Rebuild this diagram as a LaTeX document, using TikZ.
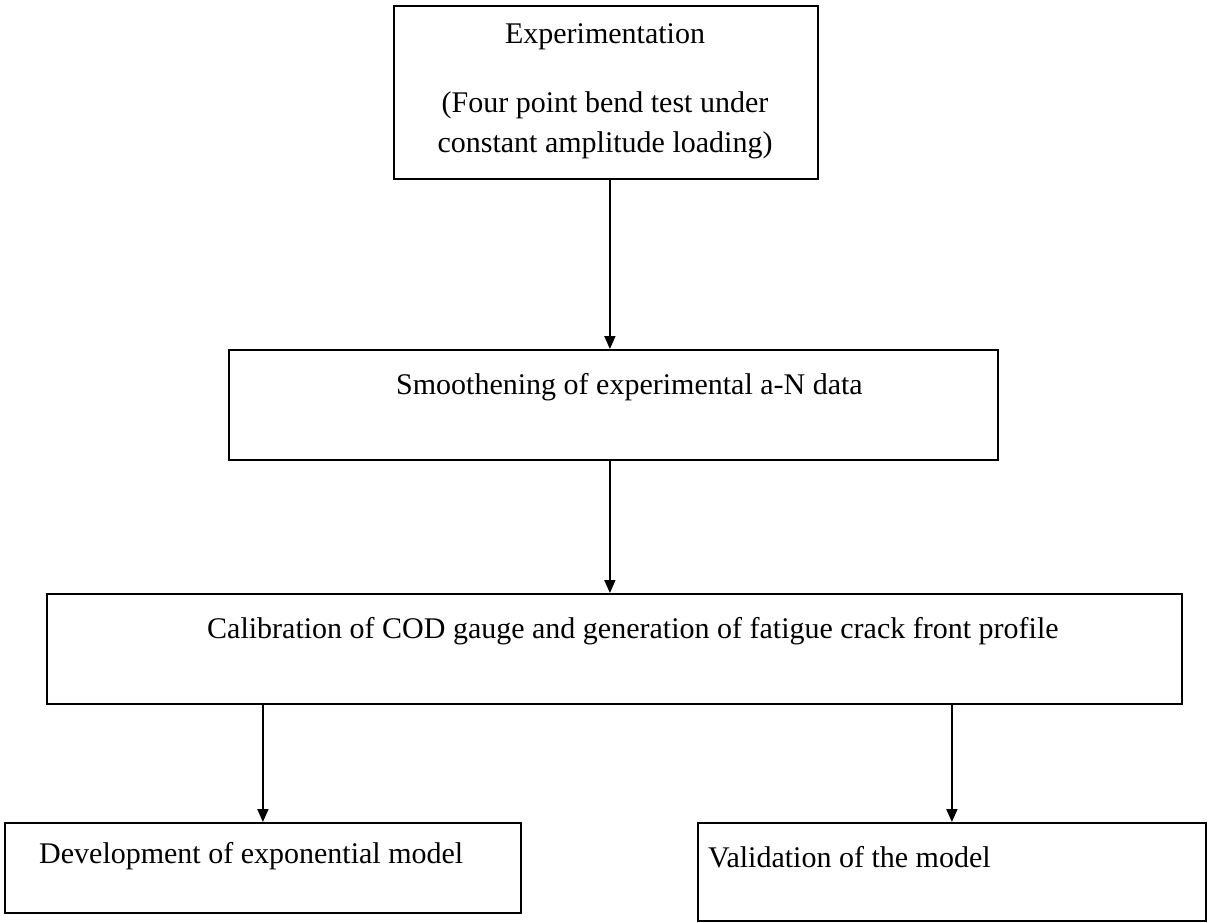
\documentclass[tikz,border=0pt]{standalone}
\usepackage{fontspec}
\setmainfont{Liberation Serif}
\usetikzlibrary{arrows.meta}
\newcommand\xsp{\hspace*{7.5pt}}
\begin{document}
\begin{tikzpicture}[x=1pt,y=-1pt,
  boxnode/.style={draw=black,line width=1.8pt,inner sep=0pt,anchor=north west},
  lbl/.style={inner sep=0pt,anchor=base west,font=\fontsize{30}{36}\selectfont},
  clbl/.style={inner sep=0pt,anchor=base,font=\fontsize{30}{36}\selectfont},
  conn/.style={line width=1.8pt,-{Triangle[length=13pt,width=11pt]}}]
\useasboundingbox (0,0) rectangle (1216,922);
\node[boxnode,minimum width=424pt,minimum height=173pt] (b1) at (393,5) {};
\node[boxnode,minimum width=769pt,minimum height=110pt] (b2) at (228,349) {};
\node[boxnode,minimum width=1135pt,minimum height=110pt] (b3) at (46,593) {};
\node[boxnode,minimum width=516pt,minimum height=90pt] (b4) at (4,822) {};
\node[boxnode,minimum width=508pt,minimum height=98pt] (b5) at (697,822) {};
\node[clbl] (t1a) at (605,43) {Experimentation};
\node[clbl] (t1b) at (605,112) {(Four point\xsp bend\xsp test under};
\node[clbl] (t1c) at (605,152) {constant\xsp amplitude\xsp loading)};
\node[lbl] (t2) at (396,394) {Smoothening\xsp of experimental\xsp a-N data};
\node[lbl] (t3) at (207,638) {Calibration\xsp of COD gauge\xsp and generation\xsp of fatigue\xsp crack front\xsp profile};
\node[lbl] (t4) at (39,863) {Development\xsp of exponential\xsp model};
\node[lbl] (t5) at (708,867) {Validation\xsp of the model};
\draw[conn] ([xshift=4pt]b1.south) -- ([xshift=4pt]b1.south |- b2.north);
\draw[conn] ([xshift=-3.5pt]b2.south) -- ([xshift=-3.5pt]b2.south |- b3.north);
\draw[conn] (b4.north |- b3.south) -- (b4.north);
\draw[conn] (b5.north |- b3.south) -- (b5.north);
\end{tikzpicture}
\end{document}
